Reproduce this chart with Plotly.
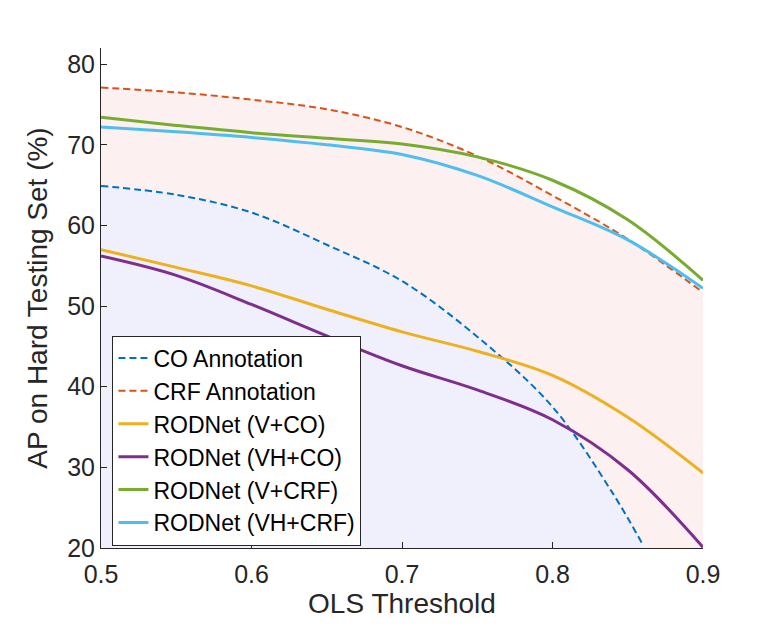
import plotly.graph_objects as go

x_grid = [0.5, 0.55, 0.6, 0.65, 0.7, 0.75, 0.8, 0.85, 0.9]

co_x = [0.5, 0.55, 0.6, 0.65, 0.7, 0.75, 0.8, 0.84, 0.86]
co_annotation = [64.9, 63.8, 61.6, 57.6, 53.1, 46.2, 37.5, 26.8, 20.4]
crf_annotation = [77.1, 76.5, 75.6, 74.4, 72.2, 68.6, 63.7, 58.3, 51.7]

v_co = [57.0, 54.8, 52.5, 49.6, 46.8, 44.4, 41.4, 36.2, 29.3]
vh_co = [56.2, 53.8, 50.2, 46.3, 42.6, 39.6, 35.9, 29.7, 20.1]
v_crf = [73.4, 72.4, 71.5, 70.8, 70.1, 68.5, 65.6, 60.7, 53.2]
vh_crf = [72.2, 71.6, 70.9, 70.0, 68.8, 66.2, 62.3, 58.2, 52.2]

FONT = "Liberation Sans, Arial, Helvetica, sans-serif"
TXT = "#262626"

fig = go.Figure()

# shaded regions under the annotation curves
fig.add_trace(go.Scatter(
    x=x_grid, y=crf_annotation, mode="lines", line=dict(width=0, shape="spline"),
    fill="tozeroy", fillcolor="#FDF0F0", showlegend=False, hoverinfo="skip",
))
fig.add_trace(go.Scatter(
    x=co_x, y=co_annotation, mode="lines", line=dict(width=0, shape="spline"),
    fill="tozeroy", fillcolor="#F0F0FC", showlegend=False, hoverinfo="skip",
))

series = [
    ("CO Annotation", co_x, co_annotation, "#0072BD", "7px,4px", 2),
    ("CRF Annotation", x_grid, crf_annotation, "#D95319", "7px,4px", 2),
    ("RODNet (V+CO)", x_grid, v_co, "#EDB120", "solid", 3),
    ("RODNet (VH+CO)", x_grid, vh_co, "#7E2F8E", "solid", 3),
    ("RODNet (V+CRF)", x_grid, v_crf, "#77AC30", "solid", 3),
    ("RODNet (VH+CRF)", x_grid, vh_crf, "#4DBEEE", "solid", 3),
]

for name, xs, ys, color, dash, w in series:
    fig.add_trace(go.Scatter(
        x=xs, y=ys, mode="lines", name=name,
        line=dict(color=color, width=w, dash=dash, shape="spline"),
    ))

# page body adds an 8px offset, so margins are shifted to compensate
fig.update_layout(
    width=778, height=628,
    margin=dict(l=93, r=83, t=40, b=88),
    paper_bgcolor="white", plot_bgcolor="white",
    font=dict(family=FONT, color=TXT, size=25),
    showlegend=True,
    legend=dict(
        x=0.019, y=0.425, xanchor="left", yanchor="top",
        bgcolor="white", bordercolor="#262626", borderwidth=1,
        font=dict(size=23, color="black"), tracegroupgap=0,
    ),
)

fig.update_xaxes(
    range=[0.5, 0.9], tickvals=[0.5, 0.6, 0.7, 0.8, 0.9],
    ticktext=["0.5", "0.6", "0.7", "0.8", "0.9"],
    showgrid=False, zeroline=False, showline=True, linecolor=TXT, linewidth=1,
    ticks="inside", ticklen=6, tickcolor=TXT, automargin=False,
    ticklabelstandoff=4,
    title=dict(text="OLS Threshold", font=dict(size=28), standoff=1),
)
fig.update_yaxes(
    range=[20, 82], tickvals=[20, 30, 40, 50, 60, 70, 80],
    showgrid=False, zeroline=False, showline=True, linecolor=TXT, linewidth=1,
    ticks="inside", ticklen=6, tickcolor=TXT, automargin=False,
    title=dict(text="AP on Hard Testing Set (%)", font=dict(size=28), standoff=11),
)

fig.write_html("out.html")
